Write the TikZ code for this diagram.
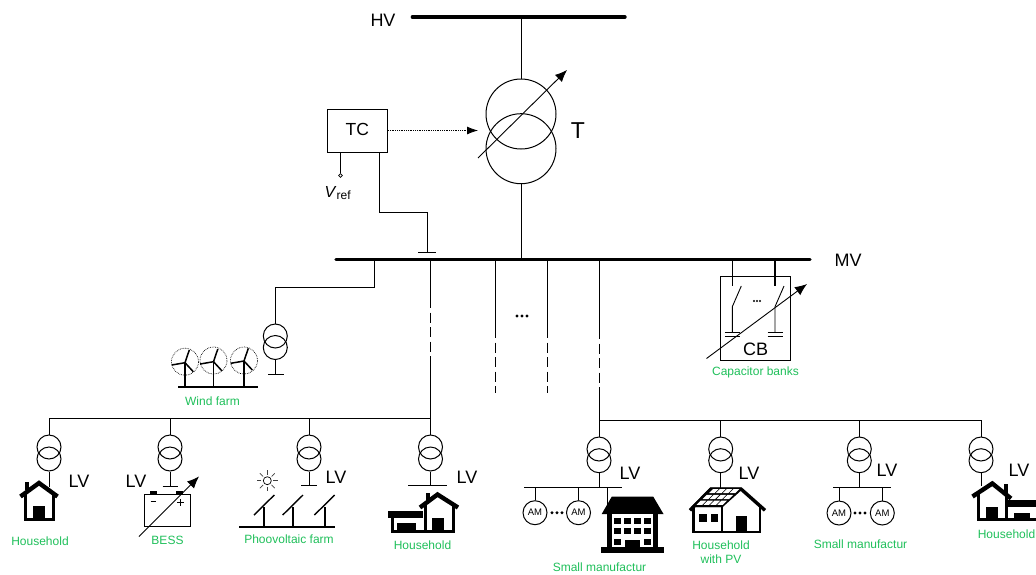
\documentclass[tikz,border=0pt]{standalone}
\usepackage{fontspec}
\setmainfont{Liberation Sans}
\usetikzlibrary{arrows.meta,calc}
\definecolor{lblgreen}{HTML}{1FBF5A}
\tikzset{
  wire/.style={line width=0.9pt,black},
  bus/.style={line width=3.4pt,black,line cap=round},
  subbar/.style={line width=1pt,black},
  dashwire/.style={line width=0.9pt,black,dash pattern=on 10pt off 4.5pt},
  bigcoil/.style={circle,draw,line width=1pt,minimum size=70pt,inner sep=0pt,fill=none},
  coil/.style={circle,draw,line width=1pt,minimum size=24pt,inner sep=0pt,fill=none},
  amotor/.style={circle,draw,line width=1pt,minimum size=24pt,inner sep=0pt,font=\fontsize{9.5}{10}\selectfont},
  lv/.style={inner sep=0pt,font=\fontsize{18}{18}\selectfont},
  lbl/.style={inner sep=0pt,text=lblgreen,font=\fontsize{12}{14}\selectfont,align=center},
  adj/.style={line width=0.9pt,-{Latex[length=12pt,width=10pt]}},
  thickline/.style={line width=1.7pt,black},
  blade/.style={line width=1.5pt,black},
  rotor/.style={circle,draw,densely dotted,line width=0.7pt,minimum size=27pt,inner sep=0pt},
  dotdot/.style={circle,fill=black,minimum size=3.2pt,inner sep=0pt},
  hs/.style={line width=3pt,black,line join=miter,line cap=butt},
  hr/.style={line width=4.4pt,black,line join=miter,line cap=butt},
  hf/.style={fill=black,draw=none},
}
\begin{document}
\begin{tikzpicture}[x=1pt,y=-1pt]
\useasboundingbox (0,0) rectangle (1036,574);
% HV / MV
\coordinate (hvL) at (412.4,17); \coordinate (hvR) at (625,17);
\coordinate (hvT) at (521,17);
\draw[bus] (hvL) -- (hvR);
\node[inner sep=0pt,font=\fontsize{18}{18}\selectfont] (hvlabel) at (383,20) {HV};
\coordinate (mvL) at (336,259.5); \coordinate (mvR) at (810,259.5);
\coordinate (mvT) at (521,259.5);
\draw[bus] (mvL) -- (mvR);
\node[inner sep=0pt,font=\fontsize{18}{18}\selectfont] (mvlabel) at (848,260) {MV};
% Main transformer
\node[bigcoil] (Ta) at (521,114) {};
\node[bigcoil] (Tb) at (521,148.7) {};
\draw[wire] (hvT) -- (Ta.north);
\draw[wire] (Tb.south) -- (mvT);
\coordinate (Ta0) at (478,158); \coordinate (Ta1) at (567,70);
\draw[adj] (Ta0) -- (Ta1);
\node[inner sep=0pt,font=\fontsize{23}{24}\selectfont] (Tlabel) at (578,131) {T};
% TC
\node[draw,line width=0.9pt,minimum width=60.5pt,minimum height=43pt,inner sep=0pt,font=\fontsize{17.5}{18}\selectfont] (tc) at (357.3,130.5) {\raisebox{1.5pt}{TC}};
\coordinate (tctarget) at (478,130.5);
\draw[line width=0.8pt,densely dotted,-{Latex[length=11pt,width=8pt]}] (tc.east) -- (tctarget);
\coordinate (vrefT) at (340.5,152);
\node[circle,draw,line width=0.7pt,minimum size=3.6pt,inner sep=0pt] (vrefdot) at (340.5,175.5) {};
\draw[wire] (vrefT) -- (vrefdot.north);
\node[inner sep=0pt,anchor=base west,font=\fontsize{16}{18}\selectfont] (vreflabel) at (324.5,197) {\textit{V}\raisebox{-2.5pt}{\fontsize{12}{12}\selectfont ref}};
\coordinate (tcS) at (379.5,152); \coordinate (tcE) at (379.5,212); \coordinate (tcF) at (427,212); \coordinate (tcG) at (427,252.5);
\coordinate (gl) at (418,252.5); \coordinate (gr) at (435.5,252.5);
\draw[wire] (tcS) -- (tcE) -- (tcF) -- (tcG);
\draw[subbar] (gl) -- (gr);
% Wind farm
\coordinate (wf0) at (374,259.5); \coordinate (wf1) at (374,287); \coordinate (wf2) at (275.3,287);
\node[coil] (wta) at (275.3,336) {};
\node[coil] (wtb) at (275.3,347.5) {};
\draw[wire] (wf0) -- (wf1) -- (wf2) -- (wta.north);
\coordinate (wfg) at (275.3,374.5);
\draw[wire] (wtb.south) -- (wfg);
\coordinate (wfgl) at (268,374.5); \coordinate (wfgr) at (283.5,374.5);
\draw[subbar] (wfgl) -- (wfgr);
\coordinate (wbL) at (178,387); \coordinate (wbR) at (258,387);
\draw[thickline] (wbL) -- (wbR);
\foreach \n/\x/\y/\cy in {1/185/362.7/361.7,2/213.5/361.7/360.5,3/244/361/360.5}{
  \node[rotor] (rot\n) at (\x,\cy) {};
  \coordinate (hub\n) at (\x,\y);
  \coordinate (base\n) at (\x,387);
  \draw[thickline] (hub\n) -- (base\n);
  \draw[blade] (hub\n) -- ++(4.3,-12.7);
  \draw[blade] (hub\n) -- ++(-13.3,2.3);
  \draw[blade] (hub\n) -- ++(8.3,9);
}
\node[lbl] (wflabel) at (212.5,401.5) {Wind farm};
% MV feeders
\coordinate (f1a) at (430.5,259.5); \coordinate (f1b) at (430.5,298); \coordinate (f1c) at (430.5,358); \coordinate (f1d) at (430.5,418);
\draw[wire] (f1a) -- (f1b); \draw[dashwire] (f1b) -- (f1c); \draw[wire] (f1c) -- (f1d);
\coordinate (f2a) at (495,259.5); \coordinate (f2b) at (495,328); \coordinate (f2c) at (495,393);
\draw[wire] (f2a) -- (f2b); \draw[dashwire] (f2b) -- (f2c);
\coordinate (f3a) at (547,259.5); \coordinate (f3b) at (547,328); \coordinate (f3c) at (547,393);
\draw[wire] (f3a) -- (f3b); \draw[dashwire] (f3b) -- (f3c);
\coordinate (f4a) at (599,259.5); \coordinate (f4b) at (599,329); \coordinate (f4c) at (599,394); \coordinate (f4d) at (599,420);
\draw[wire] (f4a) -- (f4b); \draw[dashwire] (f4b) -- (f4c); \draw[wire] (f4c) -- (f4d);
\foreach \i/\x in {1/517,2/522,3/527}{\node[dotdot] (fd\i) at (\x,316) {};}
% Capacitor banks
\node[draw,line width=1pt,minimum width=69.5pt,minimum height=83.5pt,inner sep=0pt] (cbbox) at (755.4,318.5) {};
\foreach \n/\x in {1/732.3,2/775}{
  \coordinate (cbt\n) at (\x,259.5);
  \coordinate (cbs\n) at (\x,286);
  \coordinate (cbm\n) at (\x,306.7);
  \coordinate (cbo\n) at ($(\x,286)+(9,0)$);
  \coordinate (cbc\n) at (\x,332);
  \draw[line width=1.2pt] (cbt\n) -- (cbs\n);
  \draw[wire] (cbo\n) -- (cbm\n) -- (cbc\n);
  \draw[subbar] ($(cbc\n)+(-7.5,0)$) -- ($(cbc\n)+(7.5,0)$);
  \draw[subbar] ($(cbc\n)+(-7.5,4.5)$) -- ($(cbc\n)+(7.5,4.5)$);
}
\foreach \i/\x in {1/754,2/757,3/760}{\node[circle,fill=black,minimum size=2.4pt,inner sep=0pt] (cd\i) at (\x,301) {};}
\coordinate (cba0) at (706.5,358.5); \coordinate (cba1) at (807,284);
\draw[adj] (cba0) -- (cba1);
\node[inner sep=0pt,font=\fontsize{18}{18}\selectfont] (cblabel) at (755.5,349) {CB};
\node[lbl] (cbname) at (755.5,372.5) {Capacitor banks};
% LV feeder buses
\coordinate (lvA0) at (49,418); \coordinate (lvA1) at (430.5,418);
\draw[wire] (lvA0) -- (lvA1);
\coordinate (lvB0) at (599,420); \coordinate (lvB1) at (981,420);
\draw[wire] (lvB0) -- (lvB1);
% Transformers
\foreach \n/\x in {1/49,2/170,3/309,4/430.5}{
  \coordinate (j\n) at (\x,418);
  \node[coil] (xa\n) at (\x,447) {};
  \node[coil] (xb\n) at (\x,459) {};
  \draw[wire] (j\n) -- (xa\n.north);
}
\foreach \n/\x in {5/599,6/720.7,7/859.3,8/981}{
  \coordinate (j\n) at (\x,420);
  \node[coil] (xa\n) at (\x,449) {};
  \node[coil] (xb\n) at (\x,460.7) {};
  \draw[wire] (j\n) -- (xa\n.north);
}
% tails and bars
\coordinate (e1) at (49,487); \draw[wire] (xb1.south) -- (e1);
\coordinate (e2) at (170,486); \draw[wire] (xb2.south) -- (e2);
\coordinate (e2l) at (162.7,486); \coordinate (e2r) at (178.3,486); \draw[subbar] (e2l) -- (e2r);
\coordinate (e3) at (309,485); \draw[wire] (xb3.south) -- (e3);
\coordinate (e3l) at (301.3,485); \coordinate (e3r) at (316.7,485); \draw[subbar] (e3l) -- (e3r);
\coordinate (e4) at (430.5,485); \draw[wire] (xb4.south) -- (e4);
\coordinate (e4l) at (408.3,485); \coordinate (e4r) at (446.7,485); \draw[subbar] (e4l) -- (e4r);
\coordinate (e5) at (599,487.3); \draw[wire] (xb5.south) -- (e5);
\coordinate (e5l) at (524.3,487.3); \coordinate (e5r) at (622.3,487.3); \draw[subbar] (e5l) -- (e5r);
\coordinate (e6) at (720.7,488); \draw[wire] (xb6.south) -- (e6);
\coordinate (e7) at (859.3,487.3); \draw[wire] (xb7.south) -- (e7);
\coordinate (e7l) at (833.3,487.3); \coordinate (e7r) at (890.7,487.3); \draw[subbar] (e7l) -- (e7r);
\coordinate (e8) at (981,486); \draw[wire] (xb8.south) -- (e8);
% LV labels
\node[lv] (lv1) at (79,481) {LV};
\node[lv] (lv2) at (136,481) {LV};
\node[lv] (lv3) at (336,477.5) {LV};
\node[lv] (lv4) at (467,477.5) {LV};
\node[lv] (lv5) at (630,473.5) {LV};
\node[lv] (lv6) at (749,473.5) {LV};
\node[lv] (lv7) at (887,470.5) {LV};
\node[lv] (lv8) at (1019,470.5) {LV};
% House 1
\fill[white] (24,496) -- (39,484) -- (55,496) -- (55,521) -- (24,521) -- cycle;
\fill[hf] (25,482) rectangle (29,490);
\draw[hr] (20.5,496.5) -- (39,483) -- (57.5,496.5);
\draw[hs] (25,493) -- (25,519.7) -- (53,519.7) -- (53,493);
\fill[hf] (32.5,506) rectangle (45,521);
\node[lbl] (l1) at (40,541.5) {Household};
% BESS
\draw[line width=1pt] (144.5,494.7) rectangle (190,526);
\fill[hf] (150,491) rectangle (156.7,494.7);
\fill[hf] (176,491) rectangle (183.3,494.7);
\draw[line width=0.9pt] (150.5,501) -- (155.5,501);
\draw[line width=0.9pt] (177,502.5) -- (184,502.5) (180.5,499) -- (180.5,506);
\coordinate (ba0) at (139,536.5); \coordinate (ba1) at (199,476.5);
\draw[adj] (ba0) -- (ba1);
\node[lbl] (l2) at (167.5,540) {BESS};
% PV farm
\node[circle,draw,line width=0.7pt,minimum size=8pt,inner sep=0pt] (sun) at (267.3,480.7) {};
\foreach \a in {0,45,...,315}{\draw[line width=0.7pt,black!75] ($(sun.center)+(\a:6)$) -- ($(sun.center)+(\a:10.5)$);}
\coordinate (pvL) at (239,527); \coordinate (pvR) at (335,527);
\draw[thickline] (pvL) -- (pvR);
\foreach \n/\x in {1/264.3,2/293,3/324.7}{
  \coordinate (pvb\n) at (\x,527);
  \coordinate (pvt\n) at (\x,506.7);
  \draw[thickline] (pvb\n) -- (pvt\n);
  \draw[line width=1.4pt] ($(pvt\n)+(-10.3,8.3)$) -- ($(pvt\n)+(10,-11.7)$);
}
\node[lbl] (l3) at (289,539.5) {Phoovoltaic farm};
% House 4 (left garage)
\fill[hf] (425.7,493) rectangle (430,502);
\draw[hr] (420,507.5) -- (437.5,494.5) -- (458,507.5);
\draw[hs] (425,503) -- (425,531) -- (392.5,531) -- (392.5,516);
\draw[hs] (425,531) -- (453,531) -- (453,503);
\fill[hf] (388.3,511.3) rectangle (423.3,518);
\fill[hf] (397.3,523) rectangle (416,532.5);
\fill[hf] (432.3,518) rectangle (444.3,532.5);
\node[lbl] (l4) at (422.5,545.5) {Household};
% Small manufacturer (left)
\foreach \n/\x in {a/535,b/578.5}{
  \node[amotor] (ama\n) at (\x,512.7) {AM};
  \coordinate (amt\n) at (\x,487.3);
  \draw[wire] (amt\n) -- (ama\n.north);
}
\foreach \i/\x in {1/552,2/557,3/562}{\node[dotdot] (mda\i) at (\x,512.7) {};}
\coordinate (bt) at (607.7,487.3); \coordinate (bb) at (607.7,505);
\draw[wire] (bt) -- (bb);
\fill[hf] (611.7,496.7) -- (653.3,496.7) -- (663.5,514) -- (601.7,514) -- cycle;
\fill[hf] (606.7,513) rectangle (658.3,548);
\fill[hf] (601,547.3) rectangle (664.3,553.3);
\fill[white] (611.7,514) rectangle (652.8,547.3);
\foreach \yy in {518.3,528.3}{\foreach \xx in {614.3,624.3,634.3,644.3}{\fill[hf] (\xx,\yy) rectangle ++(6.7,6);}}
\foreach \xx in {614.3,644.3}{\fill[hf] (\xx,539.3) rectangle ++(6.7,6);}
\fill[hf] (625,540) rectangle (640,547.5);
\node[lbl] (l5) at (599.5,567.5) {Small manufactur};
% House with PV
\draw[hs,line width=2.2pt] (693.5,506) -- (693.5,531.7) -- (760,531.7) -- (760,506);
\draw[hs,line width=2.2pt] (721.7,506) -- (721.7,531.7);
\draw[hs,line width=3.4pt] (690,510.3) -- (711,489) -- (741,489) -- (765,510.3);
\draw[hs,line width=2.4pt] (741,489) -- (722,506) -- (693,506);
\fill[hf] (710.5,487.5) -- (741.5,487.5) -- (722.3,507) -- (691,507) -- cycle;
\foreach \i in {0,1,2,3}{\foreach \j in {0,1,2}{
  \fill[white] ($(713,489)+(\i*6.9,0)+(-\j*6.1,\j*5.8)$) -- ++(5.6,0) -- ++(-4.2,4.2) -- ++(-5.6,0) -- cycle;
}}
\fill[hf] (699.3,514.3) rectangle (707,522);
\fill[hf] (711,514.3) rectangle (718.3,522);
\fill[hf] (735.7,516) rectangle (747.3,532.7);
\node[lbl] (l6) at (721,552.5) {Household\\with PV};
% Small manufacturer (right)
\foreach \n/\x in {a/839,b/882.3}{
  \node[amotor] (amb\n) at (\x,513) {AM};
  \coordinate (amu\n) at (\x,487.3);
  \draw[wire] (amu\n) -- (amb\n.north);
}
\foreach \i/\x in {1/855,2/860,3/865}{\node[dotdot] (mdb\i) at (\x,513) {};}
\node[lbl] (l7) at (860.5,544) {Small manufactur};
% House 8 (right garage)
\fill[white] (978,496) -- (992,484) -- (1006,496) -- (1006,521) -- (978,521) -- cycle;
\fill[hf] (1003.5,484) rectangle (1008,495);
\draw[hr] (972.5,496.5) -- (992.3,483.5) -- (1011,498.5);
\draw[hs] (978,493) -- (978,519.7) -- (1036,519.7);
\draw[hs] (1006,496) -- (1006,520);
\fill[hf] (1008,500) rectangle (1036,506.7);
\fill[hf] (985.7,506.7) rectangle (997.7,521);
\fill[hf] (1014,512.7) rectangle (1030,521);
\node[lbl] (l8) at (1006.5,534.5) {Household};
\end{tikzpicture}
\end{document}
